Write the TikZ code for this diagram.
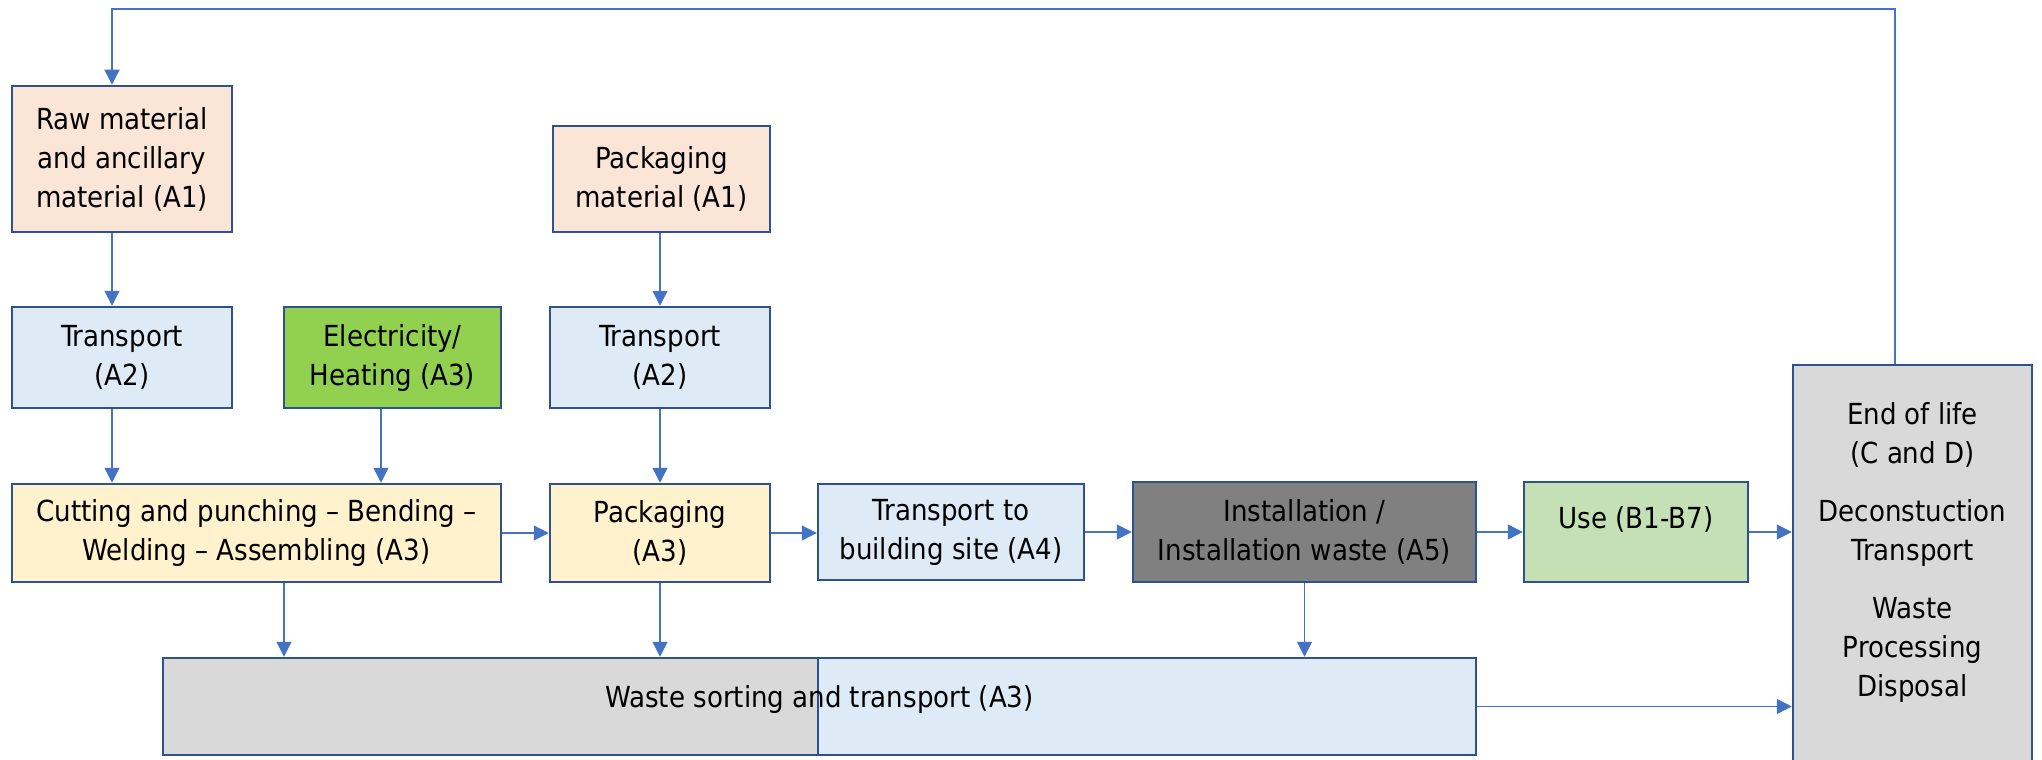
\documentclass[tikz,border=0pt]{standalone}
\usepackage{fontspec}
\setmainfont{DejaVu Sans Condensed}
\usetikzlibrary{arrows.meta}
\definecolor{bordc}{HTML}{2F528F}
\definecolor{arrc}{HTML}{4472C4}
\definecolor{peach}{HTML}{FBE5D6}
\definecolor{lblue}{HTML}{DEEBF7}
\definecolor{lyell}{HTML}{FFF2CC}
\definecolor{elgreen}{HTML}{92D050}
\definecolor{dgray}{HTML}{808080}
\definecolor{lgreen}{HTML}{C5E0B4}
\definecolor{lgray}{HTML}{D9D9D9}
\tikzset{
  txt/.style={align=center, inner sep=2pt, font=\fontsize{29}{39}\selectfont},
  box/.style={txt, draw=bordc, line width=2.5pt},
  arr/.style={draw=arrc, line width=1.3pt, -{Triangle[length=15pt,width=15pt]}},
}
\begin{document}
\begin{tikzpicture}[x=1pt,y=-1pt]
\useasboundingbox (0,0) rectangle (2042,760);
\node[box, fill=peach, minimum width=220pt, minimum height=146pt] (raw) at (122,159) {Raw material\\and ancillary\\material (A1)};
\node[box, fill=peach, minimum width=217pt, minimum height=106pt] (packmat) at (661.5,179) {Packaging\\material (A1)};
\node[box, fill=lblue, minimum width=220pt, minimum height=101pt] (trl) at (122,357.5) {Transport\\(A2)};
\node[box, fill=elgreen, minimum width=217pt, minimum height=101pt] (elec) at (392.5,357.5) {Electricity/\\Heating (A3)};
\node[box, fill=lblue, minimum width=220pt, minimum height=101pt] (trm) at (660,357.5) {Transport\\(A2)};
\node[box, fill=lyell, minimum width=489pt, minimum height=98pt] (cut) at (256.5,533) {Cutting and punching -- Bending --\\Welding -- Assembling (A3)};
\node[box, fill=lyell, minimum width=220pt, minimum height=98pt] (pack) at (660,533) {Packaging\\(A3)};
\node[box, fill=lblue, minimum width=266pt, minimum height=96pt] (trb) at (951,532) {Transport to\\building site (A4)};
\node[box, fill=dgray, minimum width=343pt, minimum height=100pt] (inst) at (1304.5,532) {Installation /\\Installation waste (A5)};
\node[box, fill=lgreen, minimum width=224pt, minimum height=100pt] (use) at (1636,532) {\raisebox{11pt}[0.75em][0.2em]{Use (B1-B7)}};
\node[box, fill=lgray, minimum width=239pt, minimum height=401pt] (eol) at (1912.5,565.5) {};
\node[txt] (eoltxt) at (1912.5,552.5) {End of life\\(C and D)\\[19pt]Deconstuction\\Transport\\[19pt]Waste\\Processing\\Disposal};
% waste sorting box with two fills
\fill[lgray] (163,658) rectangle (818,755);
\fill[lblue] (818,658) rectangle (1476,755);
\draw[bordc, line width=2pt] (818,658) -- (818,755);
\node[box, minimum width=1313pt, minimum height=97pt] (waste) at (819.5,706.5) {\raisebox{7pt}[0.75em][0.2em]{Waste sorting and transport (A3)}};
% arrows
\coordinate (cL) at (112,0);
\coordinate (cE) at (381,0);
\coordinate (c1) at (284,0);
\draw[arr] (raw.south -| cL) -- (trl.north -| cL);
\draw[arr] (packmat.south -| pack.center) -- (trm.north);
\draw[arr] (trl.south -| cL) -- (cut.north -| cL);
\draw[arr] (elec.south -| cE) -- (cut.north -| cE);
\draw[arr] (trm.south) -- (pack.north);
\draw[arr] (cut.east) -- (pack.west);
\draw[arr] (pack.east) -- (trb.west |- pack.east);
\draw[arr] (trb.east) -- (inst.west |- trb.east);
\draw[arr] (inst.east) -- (use.west |- inst.east);
\draw[arr] (use.east) -- (eol.west |- use.east);
\draw[arr] (cut.south -| c1) -- (waste.north -| c1);
\draw[arr] (pack.south) -- (waste.north -| pack.south);
\draw[arr] (inst.south) -- (waste.north -| inst.south);
\draw[arr] (waste.east) -- (eol.west |- waste.east);
\coordinate (loopR) at (1895,9);
\coordinate (loopL) at (112,9);
\draw[arr] (eol.north -| loopR) -- (loopR) -- (loopL) -- (raw.north -| loopL);
\end{tikzpicture}
\end{document}
